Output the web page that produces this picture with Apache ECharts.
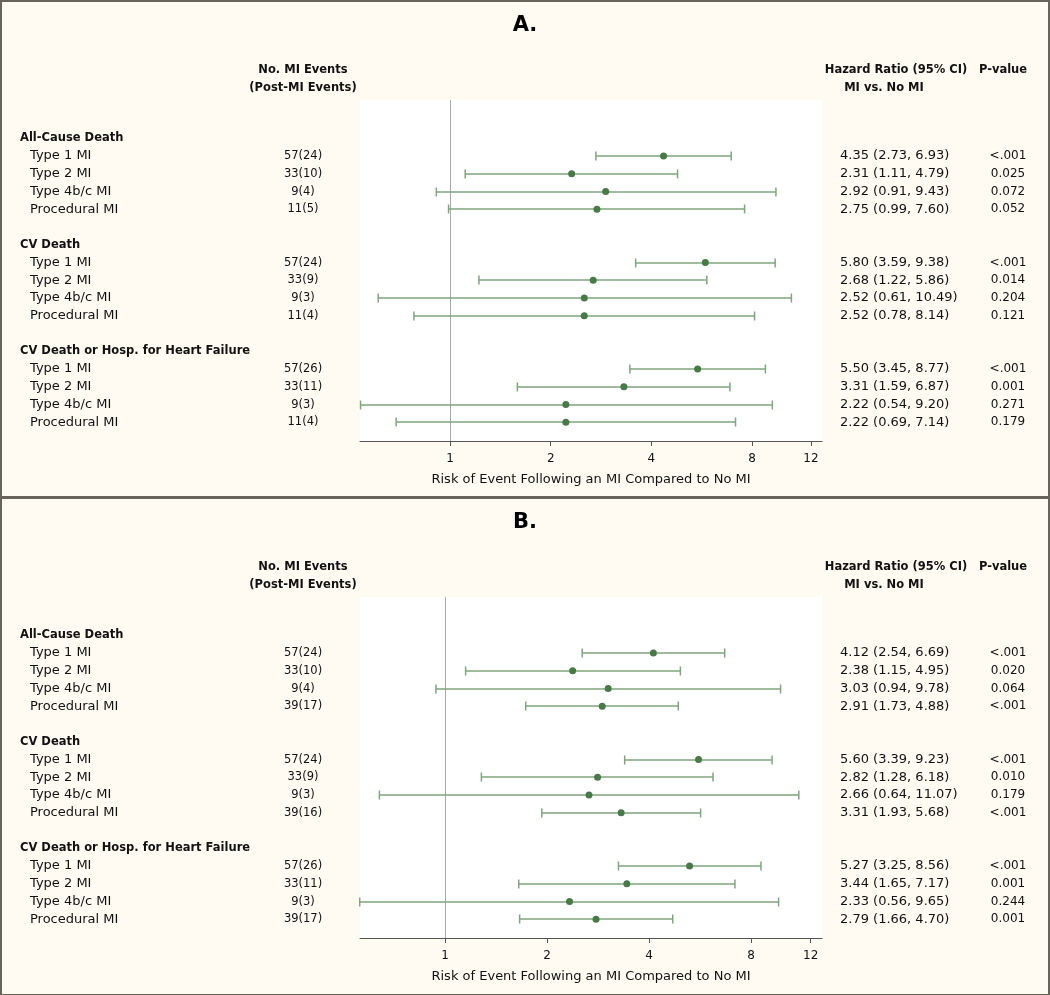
<!DOCTYPE html>
<html><head><meta charset="utf-8">
<script src="https://cdn.jsdelivr.net/npm/echarts@6/dist/echarts.min.js"></script>
<style>html,body{margin:0;padding:0;background:#fffbf3}#c{width:1050px;height:995px}</style>
</head><body><div id="c"></div>
<script>
// ---------- DATA ----------
const outcomes = ['All-Cause Death', 'CV Death', 'CV Death or Hosp. for Heart Failure'];
const miTypes = ['Type 1 MI', 'Type 2 MI', 'Type 4b/c MI', 'Procedural MI'];
const tickValues = [1, 2, 4, 8, 12];
const panelTitles = ['A.', 'B.'];
const axisName = 'Risk of Event Following an MI Compared to No MI';

// Panel A
const eventsA = ['57(24)', '33(10)', '9(4)', '11(5)', '57(24)', '33(9)', '9(3)', '11(4)', '57(26)', '33(11)', '9(3)', '11(4)'];
const hrA    = [4.35, 2.31, 2.92, 2.75, 5.80, 2.68, 2.52, 2.52, 5.50, 3.31, 2.22, 2.22];
const lowerA = [2.73, 1.11, 0.91, 0.99, 3.59, 1.22, 0.61, 0.78, 3.45, 1.59, 0.54, 0.69];
const upperA = [6.93, 4.79, 9.43, 7.60, 9.38, 5.86, 10.49, 8.14, 8.77, 6.87, 9.20, 7.14];
const pA     = ['<.001', '0.025', '0.072', '0.052', '<.001', '0.014', '0.204', '0.121', '<.001', '0.001', '0.271', '0.179'];

// Panel B
const eventsB = ['57(24)', '33(10)', '9(4)', '39(17)', '57(24)', '33(9)', '9(3)', '39(16)', '57(26)', '33(11)', '9(3)', '39(17)'];
const hrB    = [4.12, 2.38, 3.03, 2.91, 5.60, 2.82, 2.66, 3.31, 5.27, 3.44, 2.33, 2.79];
const lowerB = [2.54, 1.15, 0.94, 1.73, 3.39, 1.28, 0.64, 1.93, 3.25, 1.65, 0.56, 1.66];
const upperB = [6.69, 4.95, 9.78, 4.88, 9.23, 6.18, 11.07, 5.68, 8.56, 7.17, 9.65, 4.70];
const pB     = ['<.001', '0.020', '0.064', '<.001', '<.001', '0.010', '0.179', '<.001', '<.001', '0.001', '0.244', '0.001'];

// ---------- LAYOUT ----------
const FONT = '"DejaVu Sans", Verdana, sans-serif';
const panels = [
  { off: 0,   xmin: 0.538, xmax: 12.95, ev: eventsA, hr: hrA, lo: lowerA, hi: upperA, p: pA },
  { off: 497, xmin: 0.561, xmax: 12.96, ev: eventsB, hr: hrB, lo: lowerB, hi: upperB, p: pB }
];
const PLOT_L = 360, PLOT_W = 462, PLOT_T = 100, PLOT_H = 341;
const RIGHT_W = 1050 - PLOT_L - PLOT_W;
const YMIN = -2.16, YMAX = 17.05;

function rowOf(i) { return Math.floor(i / 4) * 6 + (i % 4) + 1; }

function textRender(items) {
  return function (params, api) {
    const it = items[params.dataIndex];
    const pt = api.coord([it.x, it.row]);
    return {
      type: 'text', x: pt[0], y: pt[1],
      style: {
        text: it.text, fill: '#111', align: it.align, verticalAlign: 'middle',
        fontSize: it.size, fontWeight: it.bold ? 'bold' : 'normal', fontFamily: FONT
      }
    };
  };
}

function ciRender(params, api) {
  const a = api.coord([api.value(0), api.value(2)]);
  const b = api.coord([api.value(1), api.value(2)]);
  const y = Math.round(a[1]);
  const h = 4.5;
  const st = { stroke: '#7ea57e', lineWidth: 1.5 };
  return {
    type: 'group', children: [
      { type: 'line', shape: { x1: a[0], y1: y, x2: b[0], y2: y }, style: st },
      { type: 'line', shape: { x1: a[0], y1: y - h, x2: a[0], y2: y + h }, style: st },
      { type: 'line', shape: { x1: b[0], y1: y - h, x2: b[0], y2: y + h }, style: st }
    ]
  };
}

const grid = [], xAxis = [], yAxis = [], series = [], title = [], gfx = [];

panels.forEach(function (P, pi) {
  const top = PLOT_T + P.off;
  const g0 = pi * 3;
  grid.push({ left: 0, top: top, width: PLOT_L, height: PLOT_H });
  grid.push({ left: PLOT_L, top: top, width: PLOT_W, height: PLOT_H, show: true, backgroundColor: '#ffffff', borderWidth: 0 });
  grid.push({ left: PLOT_L + PLOT_W, top: top, width: RIGHT_W, height: PLOT_H });

  xAxis.push({ type: 'value', gridIndex: g0, min: 0, max: PLOT_L, show: false });
  xAxis.push({
    type: 'log', logBase: 2, gridIndex: g0 + 1, min: P.xmin, max: P.xmax, position: 'bottom',
    name: axisName, nameLocation: 'middle', nameGap: 32,
    nameTextStyle: { fontSize: 13, color: '#111', fontFamily: FONT },
    axisLine: { show: true, onZero: false, lineStyle: { color: '#555', width: 1 } },
    axisTick: { show: true, customValues: tickValues, length: 5, lineStyle: { color: '#555' } },
    axisLabel: { show: true, customValues: tickValues, fontSize: 12, color: '#111', fontFamily: FONT, margin: 12,
      formatter: function (v) { return String(Math.round(v)); } },
    splitLine: { show: false }, minorTick: { show: false }, minorSplitLine: { show: false }
  });
  xAxis.push({ type: 'value', gridIndex: g0 + 2, min: 0, max: RIGHT_W, show: false });
  for (let k = 0; k < 3; k++) {
    yAxis.push({ type: 'value', gridIndex: g0 + k, min: YMIN, max: YMAX, inverse: true, show: false });
  }

  // left texts
  const leftItems = [];
  outcomes.forEach(function (o, oi) {
    leftItems.push({ x: 20, row: oi * 6, text: o, align: 'left', bold: true, size: 11.5 });
  });
  P.ev.forEach(function (e, i) {
    leftItems.push({ x: 30, row: rowOf(i), text: miTypes[i % 4], align: 'left', bold: false, size: 13 });
    leftItems.push({ x: 303, row: rowOf(i), text: e, align: 'center', bold: false, size: 11.5 });
  });
  series.push({
    type: 'custom', xAxisIndex: g0, yAxisIndex: g0, silent: true, clip: false,
    data: leftItems.map(function (it) { return [it.x, it.row]; }),
    renderItem: textRender(leftItems)
  });

  // right texts
  const rightItems = [];
  P.hr.forEach(function (h, i) {
    rightItems.push({ x: 18, row: rowOf(i), text: h.toFixed(2) + ' (' + P.lo[i].toFixed(2) + ', ' + P.hi[i].toFixed(2) + ')', align: 'left', bold: false, size: 13 });
    rightItems.push({ x: 186, row: rowOf(i), text: P.p[i], align: 'center', bold: false, size: 12 });
  });
  series.push({
    type: 'custom', xAxisIndex: g0 + 2, yAxisIndex: g0 + 2, silent: true, clip: false,
    data: rightItems.map(function (it) { return [it.x, it.row]; }),
    renderItem: textRender(rightItems)
  });

  // CI bars
  series.push({
    type: 'custom', xAxisIndex: g0 + 1, yAxisIndex: g0 + 1, silent: true, clip: false, z: 3,
    data: P.hr.map(function (h, i) { return [P.lo[i], P.hi[i], rowOf(i)]; }),
    renderItem: ciRender
  });
  // points + reference line
  series.push({
    type: 'scatter', xAxisIndex: g0 + 1, yAxisIndex: g0 + 1, silent: true, z: 4,
    symbol: 'circle', symbolSize: 7, itemStyle: { color: '#477a47', opacity: 1 },
    data: P.hr.map(function (h, i) { return [h, rowOf(i)]; }),
    markLine: {
      silent: true, symbol: 'none', label: { show: false }, z: 1,
      lineStyle: { color: '#aaaaaa', width: 1, type: 'solid' },
      data: [{ xAxis: 1 }]
    }
  });

  title.push({ text: panelTitles[pi], left: 'center', top: 10 + P.off,
    textStyle: { fontSize: 21, fontWeight: 'bold', color: '#000', fontFamily: FONT } });

  const hdr = function (txt, x, y, align) {
    gfx.push({ type: 'text', x: x, y: y + P.off, style: { text: txt, fill: '#111', align: align || 'center', verticalAlign: 'middle',
      fontSize: 11.5, fontWeight: 'bold', fontFamily: FONT } });
  };
  hdr('No. MI Events', 303, 70);
  hdr('(Post-MI Events)', 303, 88);
  hdr('Hazard Ratio (95% CI)', 896, 70);
  hdr('MI vs. No MI', 884, 88);
  hdr('P-value', 1003, 70);

  gfx.push({ type: 'rect', shape: { x: 1, y: 1 + P.off, width: 1048, height: pi === 0 ? 496 : 497 },
    style: { fill: 'none', stroke: '#67645a', lineWidth: 2 } });
});

const chart = echarts.init(document.getElementById('c'), null, { renderer: 'canvas' });
chart.setOption({
  backgroundColor: '#fffbf3',
  animation: false,
  title: title,
  grid: grid, xAxis: xAxis, yAxis: yAxis,
  graphic: { elements: gfx },
  series: series
});
</script>
</body></html>
